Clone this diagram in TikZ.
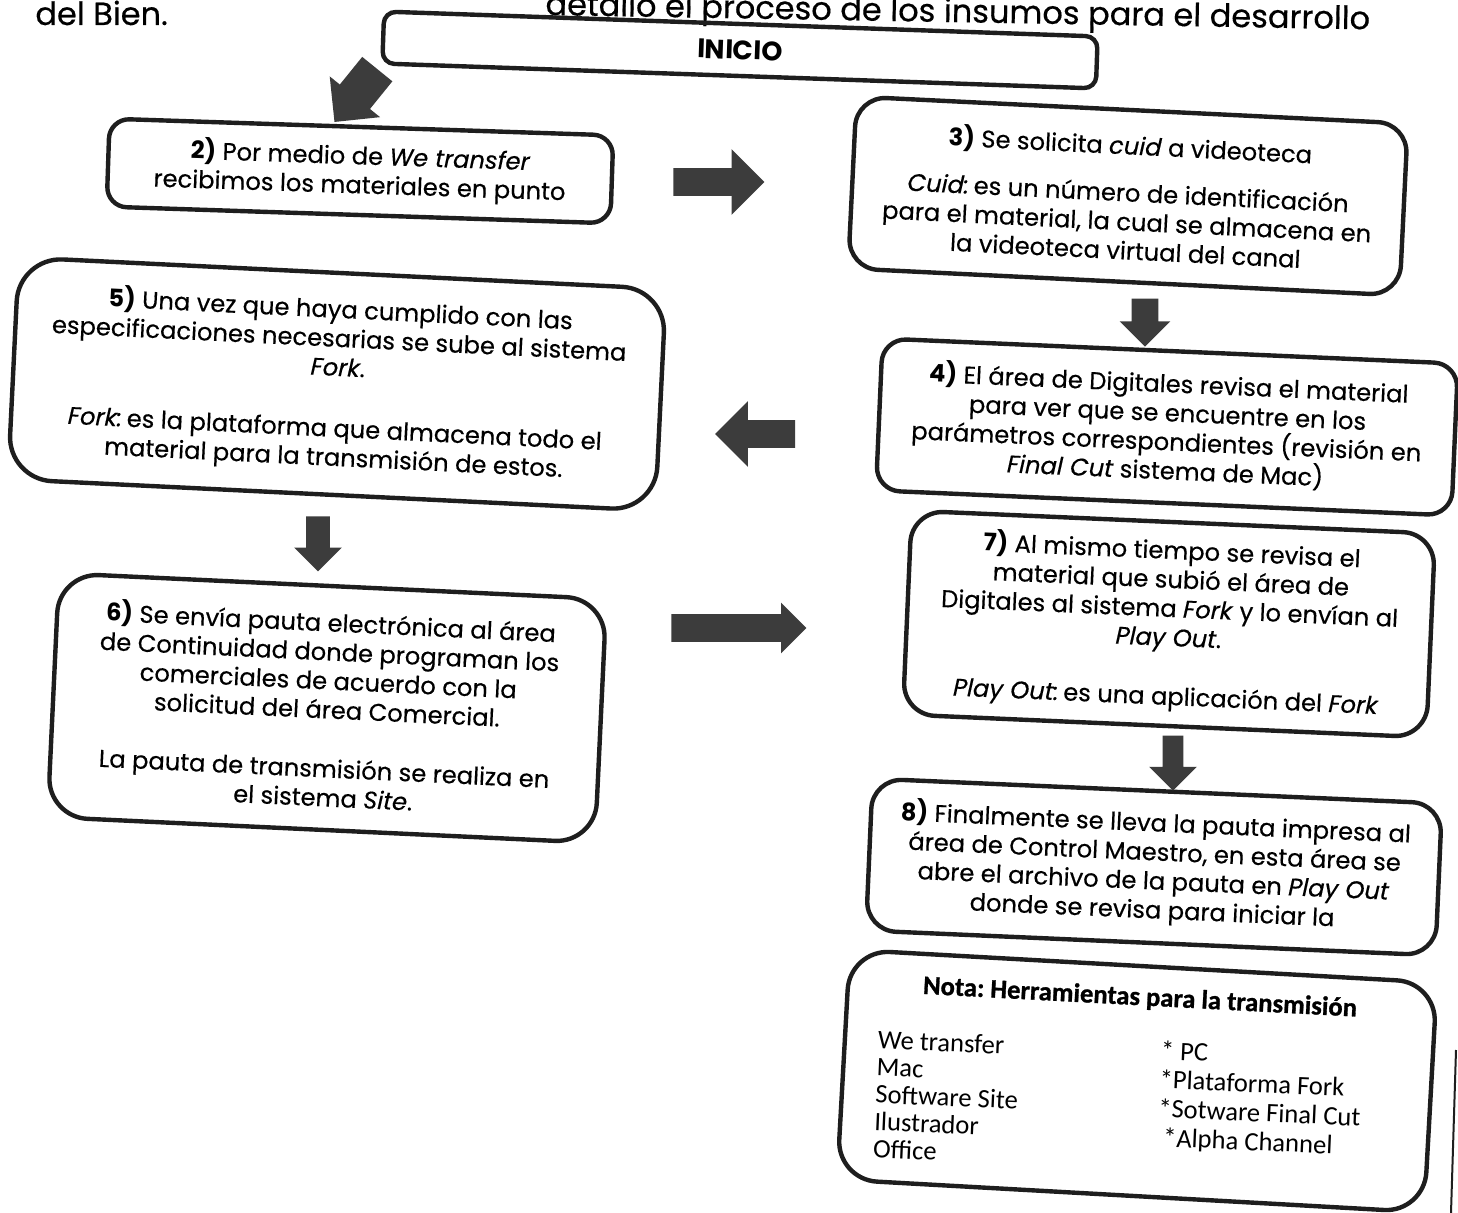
\documentclass[tikz,border=0pt]{standalone}
\usepackage{fontspec}
\setmainfont{Poppins}[UprightFeatures={FakeBold=0.4}, ItalicFeatures={FakeBold=0.4}]
\newfontfamily\notafont{Carlito}
\newfontfamily\notaheadfont{Carlito}[BoldFeatures={FakeBold=1}]
\usetikzlibrary{shapes.arrows}
\definecolor{arrgray}{HTML}{3C3C3C}
\definecolor{boxline}{HTML}{1E1E1E}
\begin{document}
\begin{tikzpicture}[x=0.5pt,y=-0.5pt,
  box/.style={draw=boxline, line width=2.2pt, rounded corners=#1, align=center, inner sep=0pt,
    font=\fontsize{12.1}{14.5}\selectfont},
  box/.default=10pt,
  arr/.style={single arrow, fill=arrgray, draw=none, inner xsep=0pt, single arrow head indent=0pt},
  nota/.style={font=\notafont\fontsize{13.3}{13.6}\selectfont, align=left, inner sep=0pt},
  toptext/.style={font=\fontsize{16}{18}\selectfont, inner sep=0pt}
]
\useasboundingbox (0,0) rectangle (1458,1213);
\clip (0,0) rectangle (1458,1213);
\fill[white] (0,0) rectangle (1458,1213);

% page text (partly cut)
\node[toptext, anchor=base west] (delbien) at (35,25) {del Bien.};
\node[toptext, anchor=base west, rotate=-1.0] (topline) at (545,15) {detallo el proceso de los insumos para el desarrollo};

% boxes
\node[box=6pt, rotate=-2, minimum width=357pt, minimum height=26pt, font=\fontsize{13.4}{15}\selectfont] (inicio) at (740,50) {\textbf{INICIO}};
\node[box=10pt, rotate=-1.9, minimum width=252pt, minimum height=44pt] (b2) at (360,171)
  {\textbf{2)} Por medio de \textit{We transfer}\\recibimos los materiales en punto};
\node[box=15pt, rotate=-2.8, minimum width=276pt, minimum height=86pt] (b3) at (1128,196)
  {\textbf{3)} Se solicita \textit{cuid} a videoteca\\[9pt]
   \textit{Cuid:}\hspace{-2pt} es un número de identificación\\para el material, la cual se almacena en\\la videoteca virtual del canal};
\node[box=22pt, rotate=-2.8, minimum width=324pt, minimum height=111pt] (b5) at (337,384)
  {\textbf{5)} Una vez que haya cumplido con las\\especificaciones necesarias se sube al sistema\\\textit{Fork}.\\[16pt]
   \textit{Fork:}\hspace{-2pt} es la plataforma que almacena todo el\\material para la transmisión de estos.};
\node[box=12pt, rotate=-2.5, minimum width=288pt, minimum height=76pt] (b4) at (1167,427)
  {\textbf{4)} El área de Digitales revisa el material\\para ver que se encuentre en los\\parámetros correspondientes (revisión en\\\textit{Final Cut} sistema de Mac)};
\node[box=16pt, rotate=-2.5, minimum width=262pt, minimum height=102pt] (b7) at (1169,624)
  {\textbf{7)} Al mismo tiempo se revisa el\\material que subió el área de\\Digitales al sistema \textit{Fork} y lo envían al\\\textit{Play Out}.\\[15pt]
   \textit{Play Out:}\hspace{-2pt} es una aplicación del \textit{Fork}};
\node[box=20pt, rotate=-2.7, minimum width=274pt, minimum height=122pt] (b6) at (327,708)
  {\textbf{6)} Se envía pauta electrónica al área\\de Continuidad donde programan los\\comerciales de acuerdo con la\\solicitud del área Comercial.\\[15pt]
   La pauta de transmisión se realiza en\\el sistema \textit{Site}.};
\node[box=15pt, rotate=-2.5, minimum width=285pt, minimum height=76pt] (b8) at (1154,867)
  {\textbf{8)} Finalmente se lleva la pauta impresa al\\área de Control Maestro, en esta área se\\abre el archivo de la pauta en \textit{Play Out}\\donde se revisa para iniciar la};
\node[box=20pt, rotate=-3.2, minimum width=294pt, minimum height=115pt] (nota) at (1137,1081) {};
\node[nota, rotate=-3, font=\notaheadfont\bfseries\fontsize{13.3}{15}\selectfont] (notahead) at (1140,998) {Nota:\hspace{-1pt} Herramientas para la transmisión};
\node[nota, rotate=-2.5, anchor=north west] (notaleft) at (878,1030)
  {We transfer\\Mac\\Software Site\\Ilustrador\\Office};
\node[nota, rotate=-2.5, anchor=north west, font=\notafont\fontsize{13.3}{14.5}\selectfont] (notaright) at (1161,1040)
  {* PC\\*Plataforma Fork\\*Sotware Final Cut\\\hspace*{3pt}*Alpha Channel};

% block arrows
\node[arr, minimum height=34pt, inner ysep=9.5pt, single arrow head extend=6.5pt, rotate=-129] (a1) at (362,88) {};
\node[arr, minimum height=45.5pt, inner ysep=6.75pt, single arrow head extend=9.5pt] (a2) at (712,182) {};
\node[arr, minimum height=24pt, inner ysep=6.5pt, single arrow head extend=6pt, rotate=-90] (a3) at (1145,316) {};
\node[arr, minimum height=40pt, inner ysep=6.75pt, single arrow head extend=9.5pt, rotate=180] (a4) at (762,434) {};
\node[arr, minimum height=27.5pt, inner ysep=5.75pt, single arrow head extend=6pt, rotate=-90] (a5) at (318,538) {};
\node[arr, minimum height=67.5pt, inner ysep=6.75pt, single arrow head extend=5.75pt] (a6) at (732,628) {};
\node[arr, minimum height=27.5pt, inner ysep=5pt, single arrow head extend=6.75pt, rotate=-90] (a7) at (1173,758) {};

% scan edge line
\coordinate (edgeA) at (1456,1050);
\coordinate (edgeB) at (1451,1213);
\draw[boxline, line width=1pt] (edgeA) -- (edgeB);
\end{tikzpicture}
\end{document}
